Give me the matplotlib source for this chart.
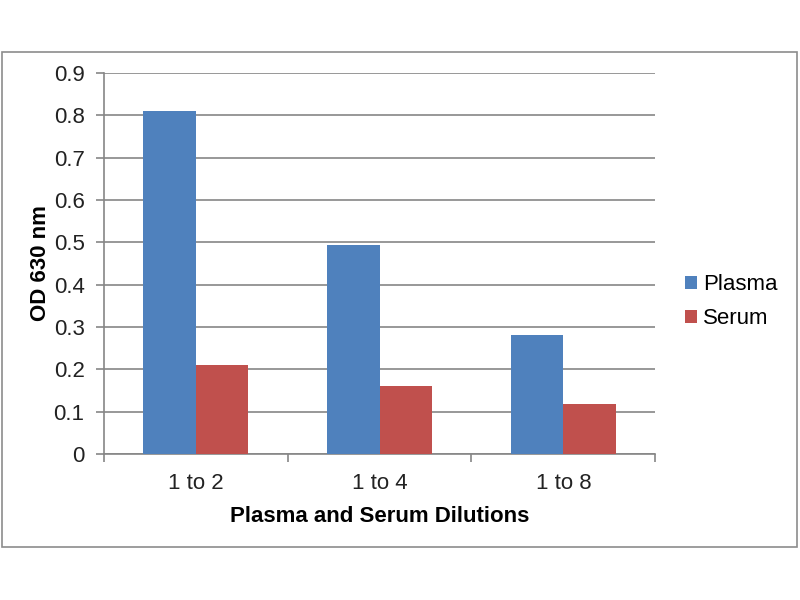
import numpy as np
import matplotlib.pyplot as plt
from matplotlib.patches import Rectangle

# values
dilutions = ['1 to 2', '1 to 4', '1 to 8']
plasma = [0.81, 0.494, 0.281]
serum = [0.21, 0.161, 0.119]

plt.rcParams['font.family'] = ['Liberation Sans', 'DejaVu Sans']

fig = plt.figure(figsize=(8, 6), dpi=100)
ax = fig.add_axes([0.13, 0.2433, 0.689, 0.635])

# outer chart border
fig.patches.append(Rectangle((2/800, 53/600), 795/800, 495/600, transform=fig.transFigure,
                             fill=False, edgecolor='#8c8c8c', linewidth=1.2))

x = np.arange(len(dilutions))
w = 1 / 3.5
b1 = ax.bar(x - w/2, plasma, w, color='#4f81bd', label='Plasma', zorder=3)
b2 = ax.bar(x + w/2, serum, w, color='#c0504d', label='Serum', zorder=3)

ax.set_xlim(-0.5, 2.5)
ax.set_ylim(0, 0.9)
ax.set_yticks(np.arange(0, 0.91, 0.1))
ax.set_yticklabels(['0'] + ['%.1f' % v for v in np.arange(0.1, 0.91, 0.1)])
ax.yaxis.grid(True, color='#868686', linewidth=1.2, zorder=0)

ax.set_xticks(x)
ax.set_xticklabels(dilutions)
ax.set_xticks([-0.5, 0.5, 1.5, 2.5], minor=True)
ax.tick_params(axis='x', which='major', length=0, pad=14, labelsize=16, labelcolor='#222222')
ax.tick_params(axis='x', which='minor', length=6, color='#868686', width=1.2)
ax.tick_params(axis='y', length=6, color='#868686', width=1.2, pad=8, labelsize=16,
               labelcolor='#222222')

for s in ['top', 'right']:
    ax.spines[s].set_visible(False)
for s in ['left', 'bottom']:
    ax.spines[s].set_color('#868686')
    ax.spines[s].set_linewidth(1.2)

ax.set_xlabel('Plasma and Serum Dilutions', fontsize=16, fontweight='bold', labelpad=8)
ax.set_ylabel('OD 630 nm', fontsize=16, fontweight='bold', labelpad=2)

fig.legend(handles=[b1, b2], loc='upper left', bbox_to_anchor=(0.845, 0.558),
           frameon=False, fontsize=16, handlelength=0.55, handleheight=0.55,
           handletextpad=0.25, labelspacing=0.6, borderaxespad=0)

fig.savefig('out.png', dpi=100)
